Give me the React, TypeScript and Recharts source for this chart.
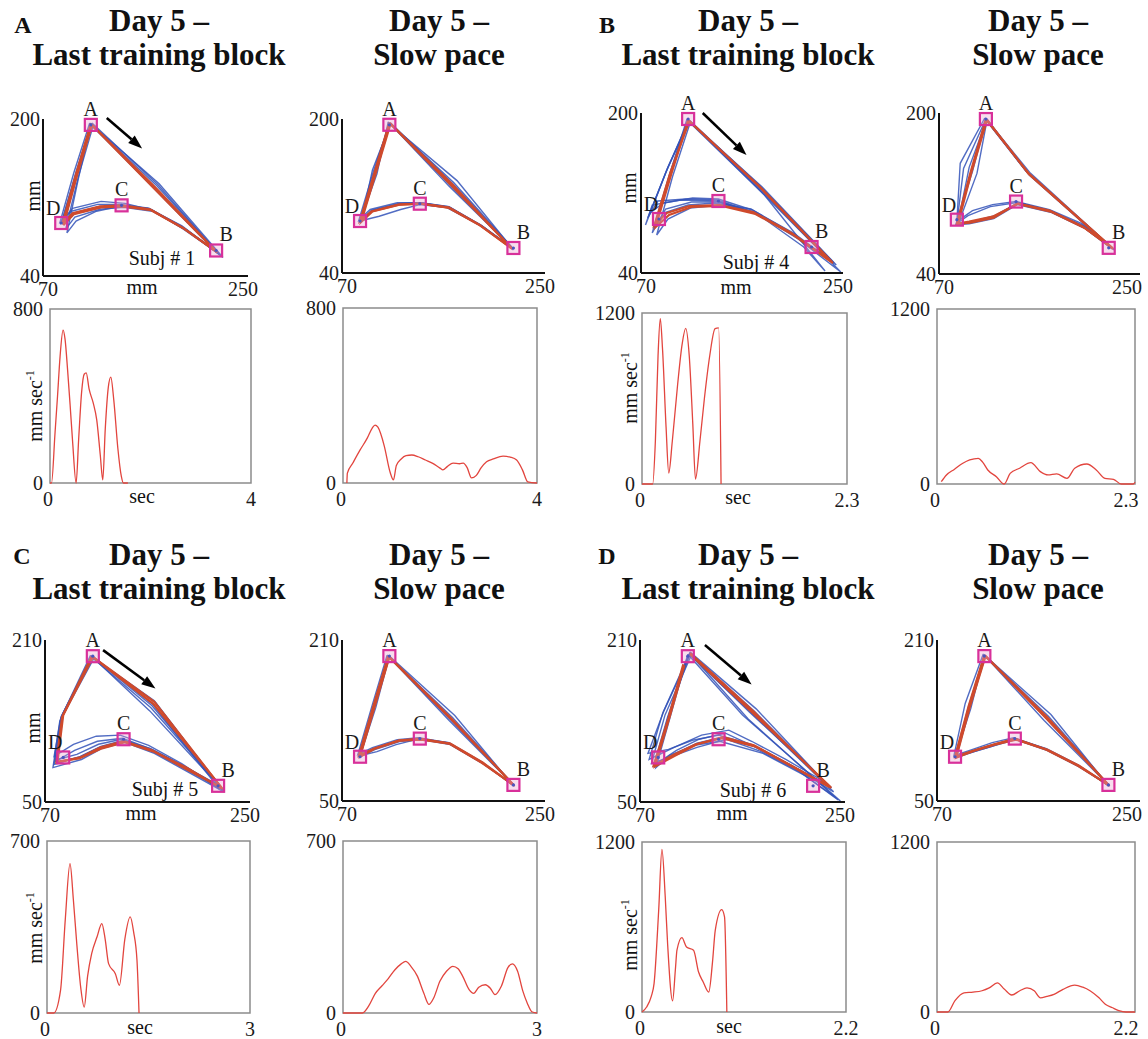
import React from "react";
import {
  ComposedChart,
  LineChart,
  Line,
  Scatter,
  XAxis,
  YAxis,
  ReferenceLine,
  ReferenceArea,
} from "recharts";

const FONT = '"Liberation Serif", "Times New Roman", Times, serif';
const BLUE = "#3352b8";
const RED = "#cf4a2c";
const VEL_RED = "#e2453e";
const MAGENTA = "#d8309a";

// target squares, same for every trajectory plot
const targetNames = ["A", "B", "C", "D"];
const targetX = [112, 222, 139, 86];
const targetY = [194, 66, 112, 94];

// trials: x,y pairs  A -> (AB) -> B -> .. -> C -> .. -> D -> (DA) -> A
const subj1TrainBlue = [
  [112,195, 167,131, 222,65, 193,89, 164,108, 139,112, 120,111, 96,104, 86,94, 99,144, 112,195],
  [113,194, 170,132, 225,62, 194,88, 165,107, 140,111, 121,110, 97,103, 88,92, 100,143, 113,194],
  [111,196, 166,131, 219,68, 191,91, 163,109, 138,113, 118,113, 95,106, 85,95, 97,145, 111,196],
  [114,193, 172,134, 228,59, 196,87, 166,106, 141,110, 120,108, 98,100, 90,88, 101,141, 114,193],
  [112,194, 168,131, 226,61, 192,91, 162,109, 137,111, 117,106, 99,96, 91,84, 101,139, 112,194],
  [113,196, 171,133, 224,63, 193,88, 166,107, 142,114, 121,116, 96,109, 87,97, 99,146, 113,196],
];
const subj1TrainRed = [
  [112,195, 167,130, 222,65, 193,89, 164,108, 139,112, 120,111, 96,104, 87,93, 99,144, 112,195],
  [113,194, 168,131, 223,64, 194,88, 165,107, 140,111, 121,110, 97,103, 88,92, 100,143, 113,194],
];
const subj1SlowBlue = [
  [112,196, 166,131, 221,66, 193,89, 164,108, 139,112, 120,111, 96,104, 86,94, 99,145, 112,196],
  [113,195, 169,134, 222,65, 194,89, 165,109, 140,113, 121,112, 97,105, 87,93, 97,147, 113,195],
  [111,197, 165,130, 220,67, 192,90, 163,108, 139,111, 122,106, 103,99, 86,94, 101,143, 111,197],
  [112,195, 172,136, 222,64, 195,88, 166,108, 140,113, 119,113, 95,106, 85,95, 98,146, 112,195],
  [113,196, 168,133, 221,66, 193,90, 164,109, 139,113, 120,112, 96,105, 87,94, 100,144, 113,196],
];
const subj1SlowRed = [
  [112,196, 167,131, 221,65, 193,89, 164,108, 139,112, 120,111, 96,104, 86,94, 99,145, 112,196],
  [113,195, 168,132, 220,66, 192,90, 165,108, 140,112, 121,111, 97,104, 87,93, 100,144, 113,195],
];

const subj4TrainBlue = [
  [112,193, 175,128, 240,52, 205,79, 170,101, 140,111, 115,111, 92,104, 82,85, 96,140, 112,193],
  [113,192, 178,126, 244,48, 208,77, 172,100, 138,113, 110,114, 85,112, 76,95, 93,143, 113,192],
  [111,194, 172,127, 236,55, 200,83, 168,104, 136,110, 112,108, 90,100, 80,80, 95,137, 111,194],
  [114,191, 176,124, 248,41, 210,74, 174,99, 141,108, 114,105, 94,94, 84,78, 98,136, 114,191],
  [112,192, 180,118, 234,42, 215,66, 175,98, 137,112, 105,113, 80,108, 74,88, 92,140, 112,192],
  [113,193, 174,129, 242,50, 206,80, 169,103, 139,114, 116,115, 90,110, 78,100, 94,146, 113,193],
];
const subj4TrainRed = [
  [112,193, 176,126, 241,50, 206,78, 172,99, 142,107, 115,106, 95,98, 83,86, 97,139, 112,193],
  [113,192, 175,127, 239,52, 204,80, 170,101, 140,108, 113,107, 93,100, 82,88, 96,140, 113,192],
];
const subj4SlowBlue = [
  [112,194, 150,140, 225,66, 200,86, 170,102, 140,110, 118,96, 98,91, 86,90, 92,145, 112,194],
  [113,193, 152,140, 226,65, 199,88, 168,103, 141,111, 120,98, 99,92, 87,89, 104,140, 113,193],
  [111,195, 148,142, 224,67, 198,90, 169,104, 139,112, 118,109, 100,103, 86,92, 89,150, 111,195],
  [112,193, 151,138, 225,65, 201,85, 171,101, 140,109, 119,95, 97,90, 85,89, 100,142, 112,193],
  [113,194, 149,141, 227,64, 200,87, 170,103, 140,111, 116,107, 96,98, 87,91, 97,146, 113,194],
];
const subj4SlowRed = [
  [112,194, 151,139, 225,66, 200,86, 170,102, 140,110, 119,96, 98,91, 86,90, 98,140, 112,194],
  [113,193, 150,140, 226,65, 199,87, 169,103, 141,110, 118,97, 97,92, 87,90, 99,141, 113,193],
];

const subj5TrainBlue = [
  [111,194, 164,145, 224,65, 192,84, 163,101, 138,110, 118,104, 100,94, 80,89, 85,135, 111,194],
  [112,193, 166,150, 226,62, 194,82, 165,100, 139,111, 119,105, 101,95, 78,87, 84,133, 112,193],
  [110,195, 162,140, 222,67, 191,86, 162,103, 137,112, 117,107, 98,97, 81,92, 86,138, 110,195],
  [113,192, 167,148, 227,60, 195,80, 166,98, 140,109, 120,103, 102,92, 77,84, 83,130, 113,192],
  [111,193, 163,143, 225,64, 193,85, 164,102, 138,113, 116,110, 96,101, 79,90, 85,136, 111,193],
  [112,194, 165,146, 223,63, 190,88, 161,106, 136,116, 115,115, 95,107, 78,95, 84,134, 112,194],
];
const subj5TrainRed = [
  [111,194, 166,149, 225,64, 193,83, 164,101, 139,110, 119,104, 101,94, 80,89, 85,134, 111,194],
  [112,193, 165,147, 226,63, 194,84, 165,100, 140,109, 120,103, 100,93, 81,90, 86,136, 112,193],
];
const subj5SlowBlue = [
  [111,194, 166,131, 222,66, 194,88, 165,107, 139,112, 120,110, 98,102, 85,95, 98,145, 111,194],
  [112,193, 168,133, 223,65, 195,87, 166,106, 140,111, 121,109, 99,101, 86,94, 99,144, 112,193],
  [110,195, 165,130, 221,67, 193,89, 164,108, 138,113, 119,111, 97,103, 84,96, 97,146, 110,195],
  [112,194, 170,135, 222,65, 194,89, 165,108, 139,112, 118,106, 101,99, 86,95, 100,143, 112,194],
];
const subj5SlowRed = [
  [111,194, 167,132, 222,66, 194,88, 165,107, 139,112, 120,110, 98,102, 85,95, 98,145, 111,194],
  [112,193, 167,131, 223,65, 195,88, 166,107, 140,111, 121,110, 99,102, 86,94, 99,144, 112,193],
];

const subj6TrainBlue = [
  [114,197, 170,140, 236,66, 200,88, 170,105, 142,114, 120,108, 100,97, 83,85, 95,135, 114,197],
  [113,196, 168,138, 240,60, 205,84, 172,104, 145,118, 122,112, 102,101, 82,86, 94,133, 113,196],
  [115,195, 165,132, 244,52, 210,80, 176,100, 146,112, 120,104, 98,95, 80,88, 92,136, 115,195],
  [114,198, 172,142, 232,70, 198,92, 168,110, 148,121, 124,116, 100,104, 78,92, 90,138, 114,198],
  [112,196, 160,136, 246,51, 215,76, 178,98, 140,110, 118,106, 96,96, 84,84, 96,132, 112,196],
  [114,196, 166,139, 238,64, 203,86, 168,107, 139,116, 116,111, 95,102, 77,98, 91,140, 114,196],
];
const subj6TrainRed = [
  [114,197, 170,139, 236,65, 201,87, 170,106, 143,114, 120,107, 101,96, 83,85, 96,134, 109,185],
  [114,196, 169,138, 238,64, 202,86, 171,105, 142,113, 119,107, 100,97, 82,86, 95,133, 108,186],
];
const subj6SlowBlue = [
  [112,195, 167,132, 222,66, 195,85, 167,101, 139,112, 120,106, 102,100, 86,94, 98,144, 112,195],
  [113,194, 169,134, 223,65, 196,84, 168,100, 140,111, 121,105, 103,99, 87,93, 99,143, 113,194],
  [111,196, 165,130, 221,67, 194,86, 166,102, 138,113, 119,108, 101,101, 85,95, 95,147, 111,196],
  [112,195, 171,136, 222,65, 195,86, 167,102, 139,112, 118,104, 100,98, 86,94, 100,142, 112,195],
];
const subj6SlowRed = [
  [112,195, 168,133, 222,66, 195,85, 167,101, 139,112, 120,106, 102,100, 86,94, 98,144, 112,195],
  [113,194, 167,132, 223,65, 196,85, 168,101, 140,111, 121,106, 103,100, 87,93, 99,143, 113,194],
];

// direction arrows (x1, y1, x2, y2 in mm)
const arrowSubj1 = [126, 201, 157, 170];
const arrowSubj4 = [125, 200, 164, 158];
const arrowSubj5 = [121, 200, 167, 162];
const arrowSubj6 = [127, 205, 168, 166];

// tangential velocity, sec / mm sec-1
const subj1TrainT = [0, 0.03, 0.1, 0.15, 0.2, 0.26, 0.3, 0.35, 0.4, 0.45, 0.52, 0.57, 0.63, 0.68, 0.72, 0.78, 0.86, 0.93, 1.0, 1.05, 1.1, 1.16, 1.21, 1.27, 1.35, 1.42, 1.46, 1.55];
const subj1TrainV = [0, 0, 230, 400, 580, 703, 660, 520, 360, 190, 0, 200, 420, 500, 506, 430, 368, 290, 130, 14, 250, 440, 487, 380, 160, 30, 0, 0];
const subj1SlowT = [0.08, 0.09, 0.2, 0.35, 0.5, 0.6, 0.66, 0.72, 0.85, 0.97, 1.04, 1.1, 1.2, 1.3, 1.42, 1.55, 1.7, 1.85, 2.0, 2.06, 2.15, 2.27, 2.4, 2.48, 2.56, 2.65, 2.75, 2.85, 2.96, 3.1, 3.3, 3.45, 3.58, 3.7, 3.81, 4.0];
const subj1SlowV = [0, 45, 90, 150, 205, 250, 265, 255, 170, 50, 14, 80, 110, 125, 128, 120, 105, 90, 68, 60, 75, 91, 88, 91, 70, 23, 35, 70, 97, 110, 123, 118, 105, 60, 5, 0];

const subj4TrainT = [0, 0.12, 0.15, 0.18, 0.205, 0.23, 0.27, 0.3, 0.34, 0.4, 0.45, 0.49, 0.53, 0.57, 0.6, 0.65, 0.7, 0.76, 0.82, 0.86, 0.887];
const subj4TrainV = [0, 0, 300, 900, 1160, 950, 400, 77, 300, 700, 980, 1092, 900, 420, 35, 300, 600, 900, 1090, 1095, 0];
const subj4SlowT = [0.05, 0.11, 0.2, 0.3, 0.38, 0.48, 0.53, 0.59, 0.69, 0.78, 0.85, 0.96, 1.09, 1.2, 1.29, 1.39, 1.51, 1.6, 1.74, 1.85, 1.95, 2.05, 2.14, 2.28, 2.3];
const subj4SlowV = [16, 62, 100, 142, 165, 176, 150, 96, 50, 0, 73, 108, 146, 85, 62, 69, 39, 108, 137, 96, 39, 32, 0, 0, 12];

const subj5TrainT = [0, 0.1, 0.2, 0.27, 0.34, 0.39, 0.44, 0.5, 0.55, 0.6, 0.66, 0.74, 0.81, 0.86, 0.91, 1.01, 1.07, 1.15, 1.23, 1.28, 1.33, 1.36];
const subj5TrainV = [0, 0, 92, 380, 608, 460, 282, 100, 24, 150, 242, 310, 364, 300, 201, 160, 113, 300, 391, 330, 214, 0];
const subj5SlowT = [0, 0.3, 0.4, 0.5, 0.6, 0.7, 0.8, 0.9, 0.97, 1.05, 1.15, 1.25, 1.33, 1.4, 1.5, 1.6, 1.7, 1.78, 1.85, 1.95, 2.02, 2.1, 2.2, 2.28, 2.35, 2.45, 2.55, 2.62, 2.7, 2.78, 2.85, 2.92, 3.0];
const subj5SlowV = [0, 0, 30, 80, 110, 140, 175, 200, 210, 190, 150, 80, 35, 60, 130, 170, 190, 180, 150, 95, 80, 105, 115, 100, 75, 110, 185, 200, 170, 90, 40, 5, 0];

const subj6TrainT = [0, 0.05, 0.1, 0.13, 0.18, 0.215, 0.25, 0.276, 0.33, 0.36, 0.377, 0.43, 0.48, 0.556, 0.61, 0.66, 0.72, 0.76, 0.79, 0.86, 0.89, 0.915];
const subj6TrainV = [0, 35, 110, 200, 718, 1148, 820, 483, 78, 300, 436, 525, 459, 436, 282, 212, 141, 350, 576, 722, 671, 0];
const subj6SlowT = [0, 0.12, 0.2, 0.3, 0.4, 0.5, 0.58, 0.67, 0.75, 0.83, 0.92, 1.0, 1.08, 1.15, 1.22, 1.3, 1.4, 1.53, 1.62, 1.7, 1.8, 1.87, 1.95, 2.02, 2.1, 2.2];
const subj6SlowV = [0, 0, 80, 135, 140, 150, 170, 205, 160, 120, 150, 170, 150, 100, 110, 125, 160, 190, 175, 150, 100, 55, 30, 10, 0, 0];

const targets = targetNames.map((name, i) => ({ name, x: targetX[i], y: targetY[i] }));

const pairs = (flat: number[]) => {
  const pts: { x: number; y: number }[] = [];
  for (let i = 0; i < flat.length; i += 2) pts.push({ x: flat[i], y: flat[i + 1] });
  return pts;
};

const labelOffset: Record<string, [number, number]> = {
  A: [0, -16],
  B: [10, -16],
  C: [0, -16],
  D: [-8, -15],
};

const tickText = { fontFamily: FONT, fontSize: 20, fill: "#1a1a1a" };

// first tick nudged right, last one nudged left, as in the figure
const renderXTick = (drop: number, firstShift: number, lastShift: number) => (p: any) => (
  <text
    x={p.x + (p.index === 0 ? firstShift : lastShift)}
    y={p.y + drop}
    textAnchor="middle"
    dominantBaseline="central"
    {...tickText}
  >
    {p.payload.value}
  </text>
);

const renderYTick = (gap: number) => (p: any) => (
  <text x={p.x - gap} y={p.y} textAnchor="end" dominantBaseline="central" {...tickText}>
    {p.payload.value}
  </text>
);

function renderTarget(props: any) {
  const { cx, cy, payload } = props;
  const [dx, dy] = labelOffset[payload.name];
  return (
    <g>
      <rect x={cx - 6} y={cy - 6} width={12} height={12} fill="#e8a0cc" fillOpacity={0.35} stroke={MAGENTA} strokeWidth={2.2} />
      <circle cx={cx} cy={cy} r={1.6} fill="#4a55c0" />
      <text x={cx + dx} y={cy + dy} textAnchor="middle" dominantBaseline="central" {...tickText}>
        {payload.name}
      </text>
    </g>
  );
}

function renderArrow(props: any) {
  const { x1, y1, x2, y2 } = props;
  const ang = Math.atan2(y2 - y1, x2 - x1);
  const bx = x2 - 14 * Math.cos(ang);
  const by = y2 - 14 * Math.sin(ang);
  const px = -Math.sin(ang) * 5;
  const py = Math.cos(ang) * 5;
  return (
    <g>
      <line x1={x1} y1={y1} x2={bx} y2={by} stroke="#000" strokeWidth={2.5} />
      <polygon points={`${x2},${y2} ${bx + px},${by + py} ${bx - px},${by - py}`} fill="#000" />
    </g>
  );
}

const TP = { l: 56, r: 24, t: 34, b: 30 };

function TrajPlot({ area, yRange, blue, red, arrow, lastShift = -5 }: any) {
  const [x0, y0, x1, y1] = area;
  const width = x1 - x0 + TP.l + TP.r;
  const height = y1 - y0 + TP.t + TP.b;
  const axisStyle = { stroke: "#111", strokeWidth: 2 };
  return (
    <div style={{ position: "absolute", left: x0 - TP.l, top: y0 - TP.t }}>
      <ComposedChart width={width} height={height} margin={{ top: TP.t, right: TP.r, bottom: 0, left: 0 }}>
        <XAxis type="number" dataKey="x" domain={[70, 250]} ticks={[70, 250]} interval={0} height={TP.b}
          axisLine={axisStyle} tickLine={false} tickSize={0} tickMargin={0} tick={renderXTick(13, 5, lastShift)} />
        <YAxis type="number" dataKey="y" domain={yRange} ticks={yRange} interval={0} width={TP.l}
          axisLine={axisStyle} tickLine={false} tickSize={0} tickMargin={0} tick={renderYTick(3)} />
        {blue.map((trial: number[], i: number) => (
          <Line key={`b${i}`} data={pairs(trial)} dataKey="y" type="linear" stroke={BLUE} strokeWidth={1.4}
            strokeOpacity={0.85} dot={false} activeDot={false} isAnimationActive={false} />
        ))}
        {red.map((trial: number[], i: number) => (
          <Line key={`r${i}`} data={pairs(trial)} dataKey="y" type="linear" stroke={RED} strokeWidth={2.2}
            dot={false} activeDot={false} isAnimationActive={false} />
        ))}
        <Scatter data={targets} shape={renderTarget} isAnimationActive={false} />
        {arrow && (
          <ReferenceLine
            segment={[{ x: arrow[0], y: arrow[1] }, { x: arrow[2], y: arrow[3] }]}
            ifOverflow="visible"
            shape={renderArrow}
          />
        )}
      </ComposedChart>
    </div>
  );
}

const VP = { l: 60, r: 20, t: 14, b: 30 };

function VelPlot({ area, tMax, vMax, t, v, lastShift = 0 }: any) {
  const [x0, y0, x1, y1] = area;
  const width = x1 - x0 + VP.l + VP.r;
  const height = y1 - y0 + VP.t + VP.b;
  const data = t.map((tt: number, i: number) => ({ t: tt, v: v[i] }));
  return (
    <div style={{ position: "absolute", left: x0 - VP.l, top: y0 - VP.t }}>
      <LineChart width={width} height={height} data={data} margin={{ top: VP.t, right: VP.r, bottom: 0, left: 0 }}>
        <XAxis type="number" dataKey="t" domain={[0, tMax]} ticks={[0, tMax]} interval={0} height={VP.b}
          axisLine={false} tickLine={false} tickSize={0} tickMargin={0} tick={renderXTick(16, -2, lastShift)} />
        <YAxis type="number" domain={[0, vMax]} ticks={[0, vMax]} interval={0} width={VP.l}
          axisLine={false} tickLine={false} tickSize={0} tickMargin={0} tick={renderYTick(7)} />
        <ReferenceArea x1={0} x2={tMax} y1={0} y2={vMax} fill="none" stroke="#8c8c8c" strokeWidth={1.5} ifOverflow="visible" />
        <Line dataKey="v" type="monotone" stroke={VEL_RED} strokeWidth={1.3} dot={false} activeDot={false} isAnimationActive={false} />
      </LineChart>
    </div>
  );
}

function Txt({ x, y, size = 20, bold = false, rotate = 0, children }: any) {
  return (
    <div
      style={{
        position: "absolute",
        left: x,
        top: y,
        transform: `translate(-50%, -50%) rotate(${rotate}deg)`,
        fontSize: size,
        fontWeight: bold ? 700 : 400,
        lineHeight: 1,
        whiteSpace: "nowrap",
      }}
    >
      {children}
    </div>
  );
}

const VelLabel = ({ x, y }: any) => (
  <Txt x={x} y={y} rotate={-90}>
    mm sec<span style={{ fontSize: 12, position: "relative", top: -8 }}>-1</span>
  </Txt>
);

export default function App() {
  return (
    <div
      style={{
        position: "absolute",
        left: 0,
        top: 0,
        width: 1148,
        height: 1039,
        background: "#fff",
        fontFamily: FONT,
        color: "#111",
        overflow: "hidden",
      }}
    >
      {/* panel letters and titles */}
      <Txt x={23} y={25} size={24} bold>A</Txt>
      <Txt x={607} y={25} size={24} bold>B</Txt>
      <Txt x={22} y={556} size={24} bold>C</Txt>
      <Txt x={607} y={556} size={24} bold>D</Txt>

      {[0, 534].map((dy) => (
        <React.Fragment key={dy}>
          <Txt x={159} y={20 + dy} size={31} bold>Day 5 –</Txt>
          <Txt x={159} y={53.5 + dy} size={31} bold>Last training block</Txt>
          <Txt x={439} y={20 + dy} size={31} bold>Day 5 –</Txt>
          <Txt x={439} y={53.5 + dy} size={31} bold>Slow pace</Txt>
          <Txt x={748} y={20 + dy} size={31} bold>Day 5 –</Txt>
          <Txt x={748} y={53.5 + dy} size={31} bold>Last training block</Txt>
          <Txt x={1038} y={20 + dy} size={31} bold>Day 5 –</Txt>
          <Txt x={1038} y={53.5 + dy} size={31} bold>Slow pace</Txt>
        </React.Fragment>
      ))}

      {/* trajectories */}
      <TrajPlot area={[43, 119, 248, 276]} yRange={[40, 200]} blue={subj1TrainBlue} red={subj1TrainRed} arrow={arrowSubj1} />
      <TrajPlot area={[342, 119, 545, 273]} yRange={[40, 200]} blue={subj1SlowBlue} red={subj1SlowRed} />
      <TrajPlot area={[641, 113, 843, 273]} yRange={[40, 200]} blue={subj4TrainBlue} red={subj4TrainRed} arrow={arrowSubj4} />
      <TrajPlot area={[939, 113, 1140, 274]} yRange={[40, 200]} blue={subj4SlowBlue} red={subj4SlowRed} lastShift={-13} />
      <TrajPlot area={[45, 640, 250, 802]} yRange={[50, 210]} blue={subj5TrainBlue} red={subj5TrainRed} arrow={arrowSubj5} />
      <TrajPlot area={[342, 640, 545, 801]} yRange={[50, 210]} blue={subj5SlowBlue} red={subj5SlowRed} />
      <TrajPlot area={[640, 640, 845, 802]} yRange={[50, 210]} blue={subj6TrainBlue} red={subj6TrainRed} arrow={arrowSubj6} />
      <TrajPlot area={[937, 640, 1140, 801]} yRange={[50, 210]} blue={subj6SlowBlue} red={subj6SlowRed} lastShift={-13} />

      {/* velocity profiles */}
      <VelPlot area={[50, 309, 251, 483]} tMax={4} vMax={800} t={subj1TrainT} v={subj1TrainV} />
      <VelPlot area={[343, 308, 537, 483]} tMax={4} vMax={800} t={subj1SlowT} v={subj1SlowV} />
      <VelPlot area={[642, 313, 847, 484]} tMax={2.3} vMax={1200} t={subj4TrainT} v={subj4TrainV} />
      <VelPlot area={[937, 309, 1135, 484]} tMax={2.3} vMax={1200} t={subj4SlowT} v={subj4SlowV} lastShift={-9} />
      <VelPlot area={[47, 841, 250, 1013]} tMax={3} vMax={700} t={subj5TrainT} v={subj5TrainV} />
      <VelPlot area={[343, 841, 537, 1013]} tMax={3} vMax={700} t={subj5SlowT} v={subj5SlowV} />
      <VelPlot area={[642, 842, 846, 1012]} tMax={2.2} vMax={1200} t={subj6TrainT} v={subj6TrainV} />
      <VelPlot area={[937, 842, 1135, 1012]} tMax={2.2} vMax={1200} t={subj6SlowT} v={subj6SlowV} lastShift={-9} />

      {/* axis labels */}
      <Txt x={33} y={196} rotate={-90}>mm</Txt>
      <Txt x={629} y={188} rotate={-90}>mm</Txt>
      <Txt x={33} y={728} rotate={-90}>mm</Txt>
      <Txt x={142} y={287}>mm</Txt>
      <Txt x={736} y={287}>mm</Txt>
      <Txt x={141} y={813}>mm</Txt>
      <Txt x={732} y={813}>mm</Txt>
      <Txt x={162} y={258}>Subj # 1</Txt>
      <Txt x={756} y={262}>Subj # 4</Txt>
      <Txt x={165} y={789}>Subj # 5</Txt>
      <Txt x={753} y={790}>Subj # 6</Txt>
      <VelLabel x={35} y={406} />
      <VelLabel x={630} y={388} />
      <VelLabel x={35} y={928} />
      <VelLabel x={630} y={935} />
      <Txt x={142} y={496}>sec</Txt>
      <Txt x={738} y={497}>sec</Txt>
      <Txt x={140} y={1027}>sec</Txt>
      <Txt x={729} y={1026}>sec</Txt>
    </div>
  );
}
